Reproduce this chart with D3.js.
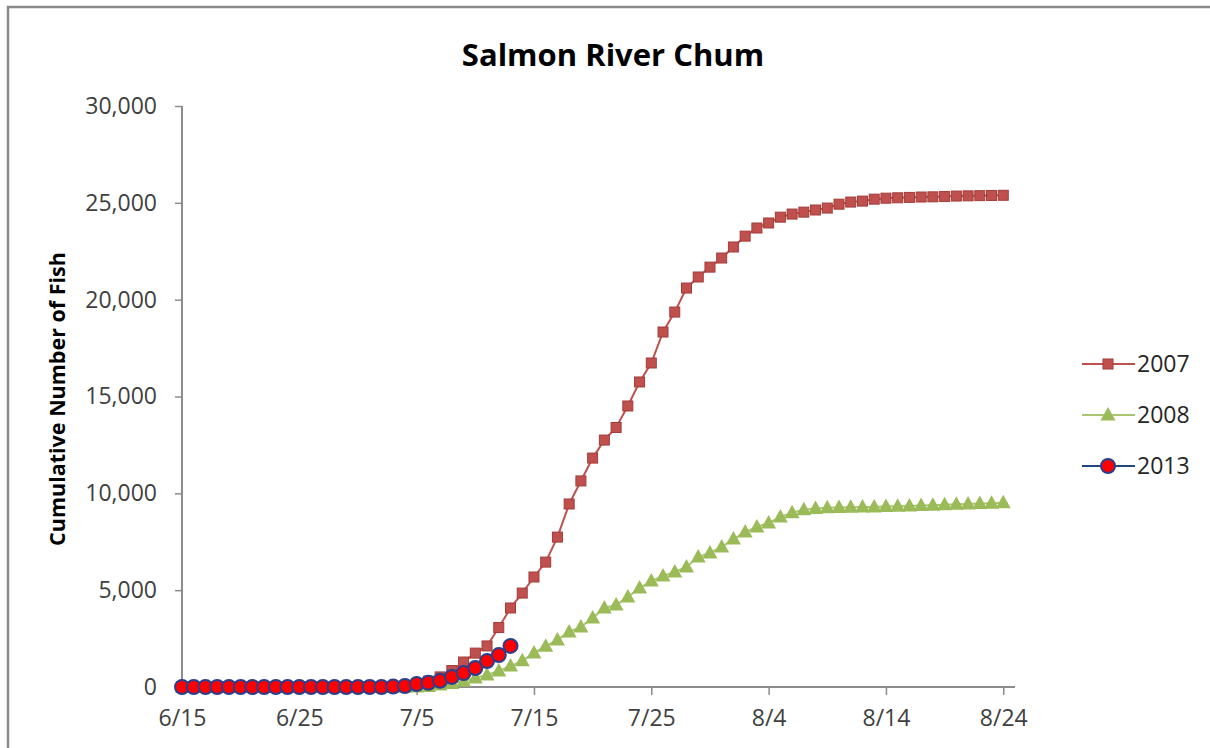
<!DOCTYPE html>
<html><head><meta charset="utf-8">
<script src="https://cdn.jsdelivr.net/npm/d3@7"></script>
<style>
html,body{margin:0;padding:0;background:#fff;}
svg{display:block;}
</style></head>
<body>
<svg id="chart" width="1210" height="748"></svg>
<script>
// ---- data ----
const startDate = "2013-06-15";
const dayCount = 71; // 6/15 .. 8/24
const tickLabels = ["6/15","6/25","7/5","7/15","7/25","8/4","8/14","8/24"];
const yTicks = [0,5000,10000,15000,20000,25000,30000];
const seriesNames = ["2007","2008","2013"];

const values2007 = [0,0,0,0,0,0,0,0,0,0, 0,0,0,0,0,0,0,10,30,60,
  150,300,520,850,1290,1750,2120,3070,4080,4850,
  5680,6450,7740,9450,10640,11820,12750,13400,14510,15750,
  16730,18330,19360,20600,21170,21680,22150,22720,23280,23700,
  23960,24260,24420,24520,24630,24730,24930,25040,25090,25190,
  25240,25260,25280,25300,25310,25330,25350,25360,25370,25380,25390];
const values2008 = [0,0,0,0,0,0,0,0,0,0, 0,0,0,0,0,0,0,0,0,0,
  0,30,100,180,300,460,620,830,1080,1350,
  1760,2100,2430,2840,3100,3560,4080,4230,4650,5110,
  5470,5730,5940,6200,6710,6920,7230,7640,8000,8260,
  8470,8780,9000,9150,9220,9250,9270,9280,9290,9300,
  9320,9330,9350,9370,9390,9410,9430,9450,9470,9490,9510];
const values2013 = [0,0,0,0,0,0,0,0,0,0, 0,0,0,0,0,0,0,0,20,50,
  150,220,320,520,720,980,1340,1650,2120];

// ---- setup ----
const parse = d3.timeParse("%Y-%m-%d");
const d0 = parse(startDate);
const dates = d3.timeDay.range(d0, d3.timeDay.offset(d0, dayCount));
const fmt = d3.timeFormat("%-m/%-d");
const tickDates = dates.filter(d => tickLabels.includes(fmt(d)));

const svg = d3.select("#chart");
const FONT = "'Open Sans', 'Noto Sans', sans-serif";

// border
svg.append("rect").attr("x",8).attr("y",7).attr("width",1300).attr("height",900)
  .attr("fill","#fff").attr("stroke","#8a8a8a").attr("stroke-width",2.5);

const x = d3.scaleTime().domain([d0, d3.timeDay.offset(d0, dayCount)]).range([182, 1015]);
const y = d3.scaleLinear().domain([0, 30000]).range([687, 106]);

// title
svg.append("text").attr("x",613).attr("y",66).attr("text-anchor","middle")
  .attr("font-family",FONT).attr("font-weight","bold").attr("font-size",31)
  .attr("fill","#000").text("Salmon River Chum");

// y axis label
svg.append("text").attr("transform","translate(65,399) rotate(-90)")
  .attr("text-anchor","middle").attr("font-family",FONT).attr("font-weight","bold")
  .attr("font-size",21.5).attr("fill","#000").text("Cumulative Number of Fish");

// axes
const axisColor = "#8c8c8c";
const yAxis = svg.append("g").attr("transform","translate(182,0)")
  .call(d3.axisLeft(y).tickValues(yTicks).tickSize(7).tickPadding(18).tickFormat(d3.format(",")));
const xAxis = svg.append("g").attr("transform","translate(0,687)")
  .call(d3.axisBottom(x).tickValues(tickDates).tickSize(8).tickPadding(15).tickFormat(fmt));
[yAxis, xAxis].forEach(g => {
  g.select(".domain").attr("stroke",axisColor).attr("stroke-width",2);
  g.selectAll(".tick line").attr("stroke",axisColor).attr("stroke-width",1.5);
  g.selectAll(".tick text").attr("font-family",FONT).attr("font-size",23).attr("fill","#404040");
});
yAxis.select(".domain").attr("d","M0,106V687");
xAxis.select(".domain").attr("d","M182,0H1015");

// series
const line = d3.line().x((v,i) => x(dates[i])).y(v => y(v));

function drawSeries(vals, lineColor, markerFn) {
  const g = svg.append("g");
  g.append("path").attr("d", line(vals)).attr("fill","none")
    .attr("stroke", lineColor).attr("stroke-width", 2);
  vals.forEach((v,i) => markerFn(g, x(dates[i]), y(v)));
}

const sq = (g, cx, cy) => g.append("rect").attr("x",cx-5).attr("y",cy-5)
  .attr("width",10).attr("height",10).attr("fill","#C0504D").attr("stroke","#A23C39").attr("stroke-width",1);
const tri = (g, cx, cy) => g.append("path")
  .attr("d",`M${cx},${cy-8}L${cx+7.5},${cy+5.5}L${cx-7.5},${cy+5.5}Z`).attr("fill","#9BBB59");
const circ = (g, cx, cy) => g.append("circle").attr("cx",cx).attr("cy",cy).attr("r",7)
  .attr("fill","#FF0000").attr("stroke","#2B3F8C").attr("stroke-width",2);

drawSeries(values2007, "#C0504D", sq);
drawSeries(values2008, "#A9C572", tri);
drawSeries(values2013, "#1F497D", circ);

// legend
const legend = [
  {name: seriesNames[0], color:"#C0504D", m: sq},
  {name: seriesNames[1], color:"#A9C572", m: tri},
  {name: seriesNames[2], color:"#1F497D", m: circ}
];
const ly = d3.scalePoint().domain(seriesNames).range([364, 466]);
legend.forEach(l => {
  const g = svg.append("g");
  const yy = ly(l.name);
  g.append("line").attr("x1",1082).attr("x2",1135).attr("y1",yy).attr("y2",yy)
    .attr("stroke",l.color).attr("stroke-width",2);
  l.m(g, 1108, yy);
  g.append("text").attr("x",1137).attr("y",yy).attr("dy","0.35em")
    .attr("font-family",FONT).attr("font-size",23).attr("fill","#262626").text(l.name);
});
</script>
</body></html>
